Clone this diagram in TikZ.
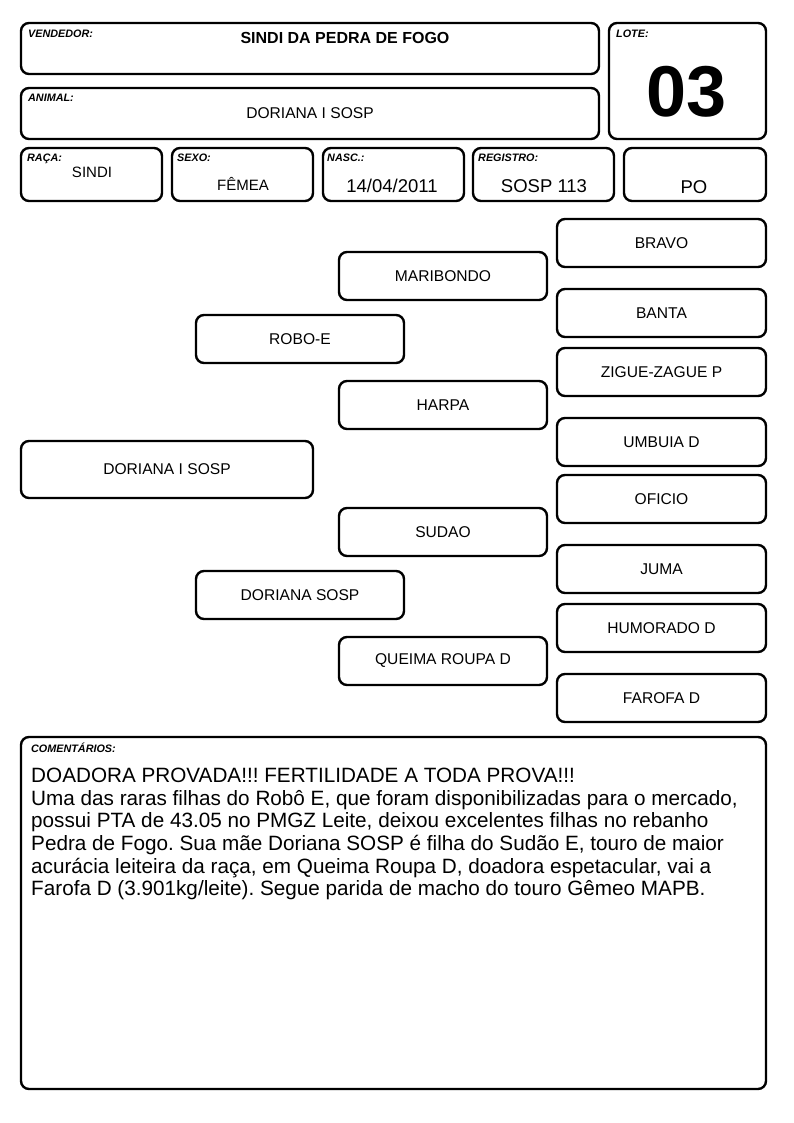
\documentclass[tikz,border=0pt]{standalone}
\usepackage{fontspec}
\setmainfont{Liberation Sans}
\frenchspacing
\begin{document}
\begin{tikzpicture}[x=1pt,y=-1pt,
  box/.style={draw,line width=2.4pt,rounded corners=8pt},
  lab/.style={font=\fontsize{10.8}{12}\selectfont\bfseries\itshape,anchor=north west,inner sep=0pt},
  txt/.style={font=\fontsize{15.6}{19}\selectfont,inner sep=0pt},
  big/.style={font=\fontsize{18.5}{22}\selectfont,inner sep=0pt}]
\useasboundingbox[fill=white] (0,0) rectangle (794,1123);
% header boxes
\draw[box] (21,23) rectangle (599,74);
\node[lab] (lv) at (28,30) {VENDEDOR:};
\node[txt,font=\fontsize{16}{19}\selectfont\bfseries] (v) at (345,38) {SINDI DA PEDRA DE FOGO};
\draw[box] (21,88) rectangle (599,139);
\node[lab] (la) at (28,94) {ANIMAL:};
\node[txt] (a) at (310,113) {DORIANA I SOSP};
\draw[box] (609,23) rectangle (766,139);
\node[lab] (ll) at (616,30) {LOTE:};
\node[inner sep=0pt,font=\fontsize{72}{76}\selectfont\bfseries] (lote) at (687,92) {03};
% info row
\draw[box] (21,148) rectangle (162,201);
\node[lab] (lr) at (27,154) {RAÇA:};
\node[txt,font=\fontsize{15}{18}\selectfont] (r) at (92,172) {SINDI};
\draw[box] (172,148) rectangle (313,201);
\node[lab] (ls) at (177,154) {SEXO:};
\node[txt,font=\fontsize{15}{18}\selectfont] (s) at (243,184) {FÊMEA};
\draw[box] (323,148) rectangle (464,201);
\node[lab] (ln) at (327,154) {NASC.:};
\node[big] (n) at (392,186) {14/04/2011};
\draw[box] (473,148) rectangle (614,201);
\node[lab] (lg) at (478,154) {REGISTRO:};
\node[big] (g) at (544,186) {SOSP 113};
\draw[box] (624,148) rectangle (766,201);
\node[big] (p) at (694,187) {PO};
% pedigree
\newcommand{\pbox}[6]{\draw[box] (#1,#2) rectangle (#3,#4); \node[txt] (#6) at ({(#1+#3)/2},{(#2+#4)/2}) {#5};}
\pbox{557}{219}{766}{267}{BRAVO}{p1}
\pbox{339}{252}{547}{300}{MARIBONDO}{p2}
\pbox{557}{289}{766}{337}{BANTA}{p3}
\pbox{196}{315}{404}{363}{ROBO-E}{p4}
\pbox{557}{348}{766}{396}{ZIGUE-ZAGUE P}{p5}
\pbox{339}{381}{547}{429}{HARPA}{p6}
\pbox{557}{418}{766}{466}{UMBUIA D}{p7}
\pbox{21}{441}{313}{498}{DORIANA I SOSP}{p8}
\pbox{557}{475}{766}{523}{OFICIO}{p9}
\pbox{339}{508}{547}{556}{SUDAO}{p10}
\pbox{557}{545}{766}{593}{JUMA}{p11}
\pbox{196}{571}{404}{619}{DORIANA SOSP}{p12}
\pbox{557}{604}{766}{652}{HUMORADO D}{p13}
\pbox{339}{637}{547}{685}{QUEIMA ROUPA D}{p14}
\pbox{557}{674}{766}{722}{FAROFA D}{p15}
% comments
\draw[box] (21,737) rectangle (766,1089);
\node[lab] (lc) at (31,743) {COMENTÁRIOS:};
\node[anchor=north west,inner sep=0pt,align=left,font=\fontsize{20.7}{22.6}\selectfont] (c) at (31,768) {DOADORA PROVADA!!! FERTILIDADE A TODA PROVA!!!\\
Uma das raras filhas do Robô E, que foram disponibilizadas para o mercado,\\
possui PTA de 43.05 no PMGZ Leite, deixou excelentes filhas no rebanho\\
Pedra de Fogo. Sua mãe Doriana SOSP é filha do Sudão E, touro de maior\\
acurácia leiteira da raça, em Queima Roupa D, doadora espetacular, vai a\\
Farofa D (3.901kg/leite). Segue parida de macho do touro Gêmeo MAPB.};
\end{tikzpicture}
\end{document}
